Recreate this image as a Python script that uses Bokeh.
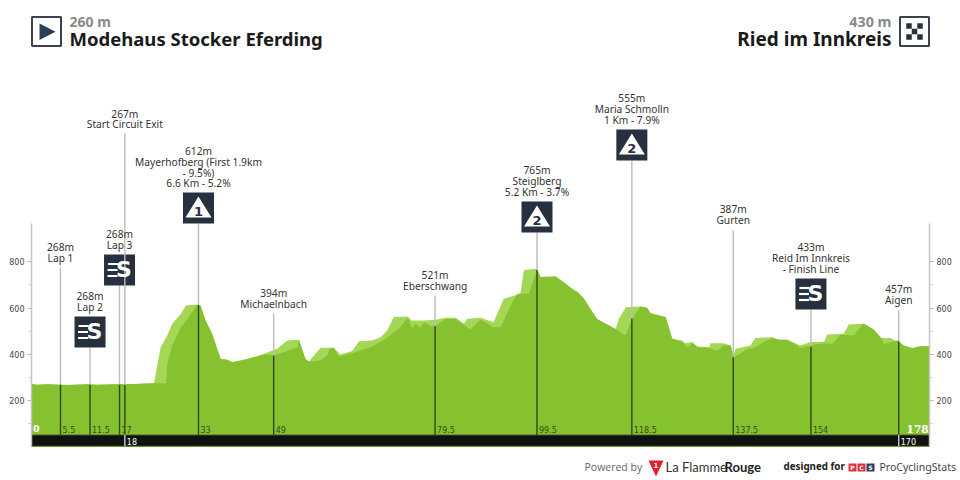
from bokeh.embed import file_html
from bokeh.resources import INLINE
from bokeh.plotting import figure
from bokeh.models import Range1d, LinearAxis, FixedTicker, Label

km_light = [0.0,1.1,3.1,7.1,11.0,13.0,17.0,20.3,24.3,25.0,25.6,26.9,27.9,29.6,30.6,32.9,33.5,34.5,35.8,37.5,38.8,39.8,42.8,46.1,48.7,50.7,53.0,54.3,55.0,57.3,
            59.9,61.2,63.6,64.9,67.5,69.2,70.5,71.8,74.6,75.3,77.8,80.1,82.1,84.1,85.7,86.4,89.0,91.6,93.6,96.9,97.6,100.2,100.9,103.9,105.5,107.2,108.3,109.5,110.8,112.1,113.8,115.8,116.4,117.8,120.7,
            122.0,122.7,125.7,127.0,129.0,129.6,131.0,132.0,134.3,134.6,137.2,138.6,139.1,139.6,142.5,143.5,146.8,148.1,149.8,152.4,154.4,157.1,157.7,161.0,162.0,165.0,167.0,168.4,170.3,172.9,174.6,176.2,178.0]
elev_light = [272,268,271,267,271,268,271,272,275,359,431,481,532,575,611,616,611,546,489,380,376,366,380,402,424,460,463,380,369,428,
              428,399,414,457,460,474,503,561,564,546,546,549,558,558,532,554,558,539,640,662,765,770,734,737,712,683,668,640,596,553,532,510,553,604,607,
              601,578,561,467,460,448,453,434,431,448,448,438,395,424,438,471,474,463,463,438,453,453,486,489,529,532,506,471,471,438,428,435,435]
km_dark = [0.0,1.1,3.1,7.1,11.0,13.0,17.0,20.3,24.3,26.7,26.9,27.9,29.6,30.9,32.9,33.5,34.5,35.8,37.5,38.8,39.8,42.8,46.4,48.1,49.5,52.7,53.0,54.3,55.0,57.3,
           58.6,59.1,59.9,60.9,63.6,67.2,67.9,70.2,73.1,74.6,75.5,76.1,77.1,77.8,79.1,80.1,82.1,84.1,87.0,89.0,91.6,93.0,95.0,96.3,98.6,100.2,100.9,103.9,105.5,107.2,108.3,109.5,110.8,112.1,113.8,115.8,117.8,119.0,120.7,
           122.0,122.7,125.7,127.0,129.0,130.0,131.0,132.0,134.3,135.9,137.2,138.6,139.1,140.5,141.9,143.2,144.8,146.8,148.1,149.8,152.4,154.4,157.1,158.7,160.4,163.0,164.7,165.0,167.0,168.4,169.0,171.6,172.9,174.6,176.2,178.0]
elev_dark = [272,268,271,267,271,268,271,272,275,275,359,438,517,553,616,611,546,489,380,376,366,380,399,395,405,431,463,380,369,373,
             395,424,428,391,405,431,438,467,517,558,510,532,515,539,522,525,553,553,506,549,517,517,611,662,662,765,734,737,712,683,668,640,596,553,532,510,481,553,607,
             601,578,561,467,453,431,448,431,428,414,438,438,388,402,424,428,448,471,463,463,428,438,448,445,486,481,529,532,506,471,445,460,438,424,435,435]

mk_km_label = ["5.5","11.5","17","18","33","49","79.5","99.5","118.5","137.5","154","170"]
mk_km = [5.75,11.6,17.45,18.5,33.1,48.0,80.0,100.2,119.0,139.1,154.5,171.9]
mk_elev = [268,268,268,267,612,394,521,765,555,387,433,457]
mk_text = [["268m","Lap 1"],["268m","Lap 2"],["268m","Lap 3"],["267m","Start Circuit Exit"],
           ["612m","Mayerhofberg (First 1.9km","- 9.5%)","6.6 Km - 5.2%"],["394m","Michaelnbach"],["521m","Eberschwang"],
           ["765m","Steiglberg","5.2 Km - 3.7%"],["555m","Maria Schmolln","1 Km - 7.9%"],["387m","Gurten"],
           ["433m","Reid Im Innkreis","- Finish Line"],["457m","Aigen"]]
mk_icon = ["","S","S","","1","","","2","2","","S",""]
mk_top_px = [267,347,285,133,223,313,295,232,160,230,309,310]
mk_text_px = [258,307,245,124.5,183.5,304,286,192,120,220,269,300]
y_ticks = [200,400,600,800]
y_minor = [100,300,500,700]
start_name, start_elev = "Modehaus Stocker Eferding", "260 m"
finish_name, finish_elev = "Ried im Innkreis", "430 m"

LIGHT, DARK, NAVY = "#a3d755", "#86c12f", "#27303f"
TXT = "Noto Sans"

def PX(x): return (x - 31) / 898 * 178
def PY(y): return (446.3 - y) / 0.2312

p = figure(width=960, height=480, output_backend="svg", toolbar_location=None,
           x_range=Range1d(PX(0), PX(960)), y_range=Range1d(PY(480), PY(0)),
           x_axis_location=None, y_axis_location="left",
           min_border_left=0, min_border_right=0, min_border_top=0, min_border_bottom=0,
           background_fill_color="white", border_fill_color="white", outline_line_color=None)
p.grid.visible = False

def style(ax, loc):
    ax.ticker = FixedTicker(ticks=y_ticks, minor_ticks=y_minor)
    ax.bounds = (0, 966)
    ax.fixed_location = loc
    ax.axis_line_color = "#c4c4c4"
    ax.axis_line_width = 1.5
    ax.major_tick_line_color = "#bbbbbb"
    ax.minor_tick_line_color = "#cccccc"
    ax.major_tick_out = 4
    ax.major_tick_in = 0
    ax.minor_tick_out = 3
    ax.minor_tick_in = 0
    ax.major_label_standoff = 3
    ax.major_label_text_font = "DejaVu Sans"
    ax.major_label_text_font_size = "8px"
    ax.major_label_text_color = "#444444"

style(p.yaxis[0], 0)
right = LinearAxis()
style(right, 178)
p.add_layout(right, "right")

def text(x, y, s, size=10.2, color="#333333", font=TXT, style_="normal", align="center"):
    p.add_layout(Label(x=PX(x), y=PY(y - 0.7), text=s, text_font=font, text_font_size=f"{size}px",
                       text_color=color, text_font_style=style_, text_align=align, text_baseline="middle"))

def poly(xs, ys, color):
    p.patch([PX(x) for x in xs], [PY(y) for y in ys], fill_color=color, line_color=None)

# profile
p.varea(km_light, elev_light, [0]*len(km_light), fill_color=LIGHT)
p.varea(km_dark, elev_dark, [0]*len(km_dark), fill_color=DARK)
p.quad(left=[0], right=[178], bottom=[2], top=[52], fill_color="#111111", line_color="#6f8f2f", line_width=1)

# markers
for k, e, tp, lines, ic, lab, tpx in zip(mk_km, mk_elev, mk_top_px, mk_text, mk_icon, mk_km_label, mk_text_px):
    xpx = 31 + k / 178 * 898
    p.segment([k], [PY(tp)], [k], [e], line_color="#bcbcbc", line_width=1.4)
    p.segment([k], [e], [k], [52], line_color="#2e4a16", line_width=1.4)
    if lab in ("18", "170"):
        p.segment([k], [52], [k], [2], line_color="#c8c8c8", line_width=1.4)
        text(xpx + 2, 441.5, lab, 8, "#ffffff", "DejaVu Sans", align="left")
    else:
        text(xpx + 2, 430, lab, 8, "#35501a", "DejaVu Sans", align="left")
    for i, s in enumerate(reversed(lines)):
        text(xpx, tpx - i * 10.8, s)
    if ic:
        cy = PY(tp - 15.5)
        p.scatter([k], [cy], marker="square", size=31, fill_color=NAVY, line_color=None)
        if ic == "S":
            text(xpx + 4.5, tp - 15, "S", 22, "#ffffff", "DejaVu Sans", "bold")
            for dy, dx in ((-6, -6.5), (0, -7), (6, -7)):
                p.scatter([PX(xpx + dx)], [PY(tp - 15.5 + dy)], marker="dash", size=10, line_color="#ffffff", line_width=2.2)
        else:
            poly([xpx - 13, xpx, xpx + 13], [tp - 6, tp - 27, tp - 6], "#ffffff")
            text(xpx, tp - 11, ic, 13, NAVY, "DejaVu Sans", "bold")

# start / finish labels on the profile
text(32.5, 429, "0", 9.5, "#ffffff", "DejaVu Sans", "bold", "left")
text(928, 429, "178", 10.5, "#ffffff", "DejaVu Serif", "bold", "right")

# header
p.scatter([PX(46)], [PY(31)], marker="square", size=29, fill_color="white", line_color="#3b4250", line_width=2)
poly([39, 39, 55], [23, 39.5, 31.3], "#2c3e55")
text(69, 21.5, start_elev, 14, "#8a8a8a", TXT, "bold", "left")
text(69, 39, start_name, 18.5, "#1a1a1a", TXT, "bold", "left")
p.scatter([PX(914)], [PY(31)], marker="square", size=29, fill_color="white", line_color="#3b4250", line_width=2)
for i in range(3):
    for j in range(3):
        if (i + j) % 2 == 0:
            p.scatter([PX(908.5 + i * 5.5)], [PY(25.5 + j * 5.5)], marker="square", size=5.5, fill_color=NAVY, line_color=None)
text(891, 21.5, finish_elev, 14.3, "#8a8a8a", TXT, "bold", "right")
text(891, 39, finish_name, 19, "#1a1a1a", TXT, "bold", "right")

# footer
text(584, 467, "Powered by", 10.5, "#666666", "Open Sans", align="left")
poly([648, 663, 655.5], [460, 460, 476], "#e0202f")
text(655.5, 465, "1", 7, "#ffffff", "DejaVu Sans", "bold")
text(665, 467, "La Flamme", 13, "#333333", "Lato", align="left")
text(724, 467, "Rouge", 13, "#222222", "Lato", "bold", align="left")
text(783, 467, "designed for", 9.8, "#222222", TXT, "bold", "left")
for x0, col, ch in ((852, "#d9333f", "P"), (861, "#d9333f", "C"), (870, "#2c3e55", "S")):
    p.scatter([PX(x0)], [PY(467)], marker="square", size=8, fill_color=col, line_color=None)
    text(x0, 467.7, ch, 6, "#ffffff", "DejaVu Sans", "bold")
text(879, 467, "ProCyclingStats", 10.5, "#444444", TXT, align="left")

open("out.html", "w").write(file_html(p, INLINE))
